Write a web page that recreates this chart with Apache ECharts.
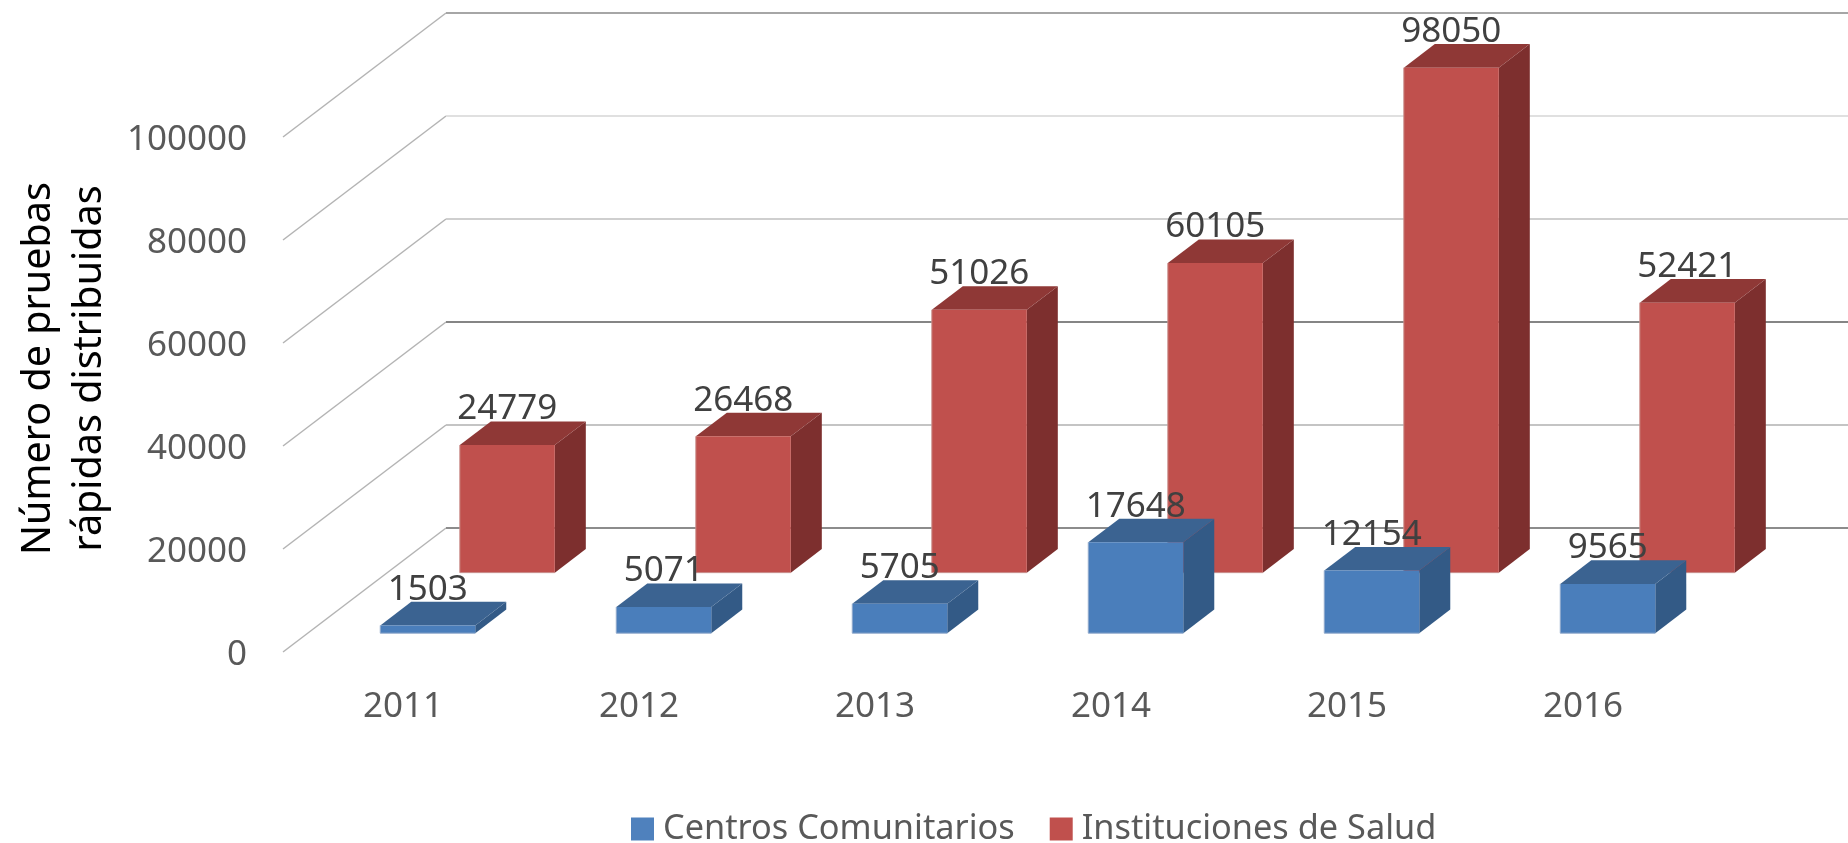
<!DOCTYPE html>
<html>
<head>
<meta charset="utf-8">
<title>Pruebas rápidas distribuidas</title>
<script src="https://cdn.jsdelivr.net/npm/echarts@6/dist/echarts.min.js"></script>
<style>
  html, body { margin: 0; padding: 0; background: #fff; }
  #chart { width: 1848px; height: 843px; }
</style>
</head>
<body>
<div id="chart"></div>
<script>
var years = ['2011', '2012', '2013', '2014', '2015', '2016'];
var centros = [1503, 5071, 5705, 17648, 12154, 9565];
var instituciones = [24779, 26468, 51026, 60105, 98050, 52421];
var yTicks = [0, 20000, 40000, 60000, 80000, 100000];

// colour of each back wall line, same order as yTicks
var wallColors = ['#8c8c8c', '#c4c4c4', '#858585', '#cfcfcf', '#e0e0e0', '#a6a6a6'];

// oblique projection of the fake 3D box: z=0 is the front edge, z=1 the back wall
var DEPTH_X = 163;
var DEPTH_Y = 124;
var FONT = '"Noto Sans", sans-serif';

function project(p, z) {
    return [p[0] + DEPTH_X * z, p[1] - DEPTH_Y * z];
}

function wallLine(params, api) {
    var idx = params.dataIndex;
    var box = params.coordSys;
    var y = api.coord([0, api.value(1)])[1];
    var a = [box.x - 2, y];
    var b = project(a, 1);
    return {
        type: 'group',
        children: [
            { type: 'polyline', shape: { points: [a, b] }, style: { stroke: '#b4b4b4', lineWidth: 1.5, fill: null } },
            { type: 'line', shape: { x1: b[0], y1: b[1], x2: box.x + box.width + DEPTH_X, y2: b[1] }, style: { stroke: wallColors[idx], lineWidth: 2 } }
        ]
    };
}

function barRenderer(zFront, faces) {
    return function (params, api) {
        var i = api.value(0);
        var v = api.value(1);
        var w = api.size([1, 0])[0] * 0.4025;
        var zBack = zFront + 31 / DEPTH_X;
        var base = api.coord([i, 0]);
        var top = api.coord([i, v]);
        var fl = project([base[0] - w / 2, top[1]], zFront);
        var fr = project([base[0] + w / 2, top[1]], zFront);
        var bl = project([base[0] - w / 2, base[1]], zFront);
        var br = project([base[0] + w / 2, base[1]], zFront);
        var tl = project([base[0] - w / 2, top[1]], zBack);
        var tr = project([base[0] + w / 2, top[1]], zBack);
        var sb = project([base[0] + w / 2, base[1]], zBack);
        return {
            type: 'group',
            children: [
                { type: 'polygon', shape: { points: [fr, tr, sb, br] }, style: { fill: faces.side } },
                { type: 'polygon', shape: { points: [fl, tl, tr, fr] }, style: { fill: faces.top } },
                { type: 'polygon', shape: { points: [fl, fr, br, bl] }, style: { fill: faces.front } },
                { type: 'polyline', shape: { points: [fl, bl, br] }, style: { stroke: faces.edge, lineWidth: 1, fill: null } },
                {
                    type: 'text',
                    style: {
                        text: String(v),
                        x: (fl[0] + fr[0]) / 2,
                        y: tl[1] - 12,
                        align: 'center',
                        verticalAlign: 'middle',
                        fontFamily: FONT,
                        fontSize: 35,
                        fill: '#404040'
                    }
                }
            ]
        };
    };
}

function pairs(values) {
    return values.map(function (v, i) { return [i, v]; });
}

var chart = echarts.init(document.getElementById('chart'), null, { renderer: 'canvas' });

chart.setOption({
    animation: false,
    backgroundColor: '#ffffff',
    grid: { left: 285, top: 137, width: 1416, height: 515, outerBoundsMode: 'none' },
    legend: {
        left: 626,
        top: 807,
        itemWidth: 23,
        itemHeight: 23,
        itemGap: 35,
        icon: 'rect',
        data: ['Centros Comunitarios', 'Instituciones de Salud'],
        textStyle: { fontFamily: FONT, fontSize: 34.3, color: '#595959', padding: [0, 0, 0, 4] }
    },
    xAxis: {
        type: 'category',
        data: years,
        axisLine: { show: false },
        axisTick: { show: false },
        splitLine: { show: false },
        axisLabel: { margin: 38, fontFamily: FONT, fontSize: 35, color: '#595959' }
    },
    yAxis: {
        type: 'value',
        min: 0,
        max: 100000,
        interval: 20000,
        axisLine: { show: false },
        axisTick: { show: false },
        splitLine: { show: false },
        axisLabel: {
            margin: 38,
            fontFamily: FONT,
            fontSize: 35,
            color: '#595959',
            verticalAlign: 'top',
            lineHeight: 6,
            formatter: function (v) { return String(v); }
        },
        name: 'Número de pruebas\nrápidas distribuidas',
        nameLocation: 'middle',
        nameRotate: 90,
        nameGap: 170,
        nameTextStyle: { fontFamily: FONT, fontSize: 39.5, lineHeight: 51, color: '#000000', padding: [0, 0, 0, 52] }
    },
    series: [
        {
            name: 'walls',
            type: 'custom',
            silent: true,
            clip: false,
            encode: { x: 0, y: 1 },
            data: yTicks.map(function (v) { return [0, v]; }),
            renderItem: wallLine
        },
        {
            name: 'Instituciones de Salud',
            type: 'custom',
            clip: false,
            itemStyle: { color: '#c0504d' },
            encode: { x: 0, y: 1 },
            data: pairs(instituciones),
            renderItem: barRenderer(0.64, { front: '#c0504d', top: '#8f3836', side: '#7d2f2e', edge: '#c98f8d' })
        },
        {
            name: 'Centros Comunitarios',
            type: 'custom',
            clip: false,
            itemStyle: { color: '#4f81bd' },
            encode: { x: 0, y: 1 },
            data: pairs(centros),
            renderItem: barRenderer(0.152, { front: '#4a7ebb', top: '#3b6391', side: '#335a86', edge: '#8fa9cb' })
        }
    ]
});
</script>
</body>
</html>
